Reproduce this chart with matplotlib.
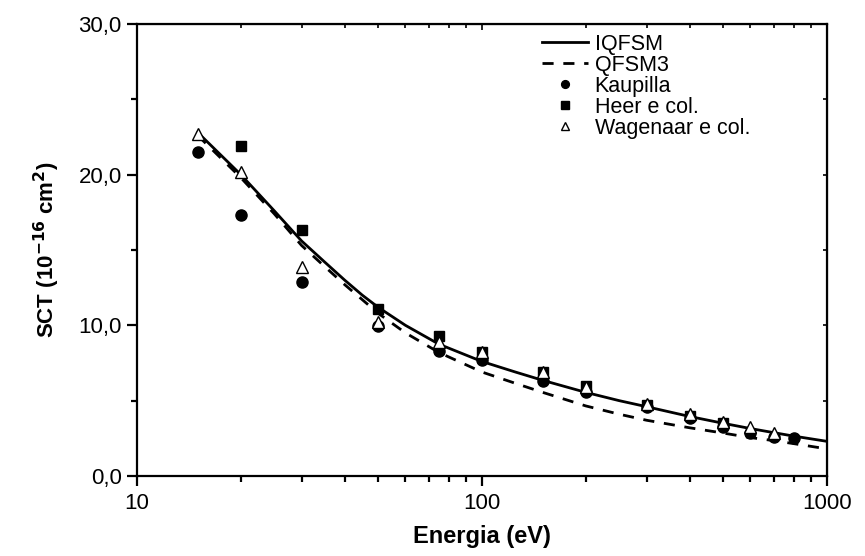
import matplotlib
matplotlib.use("Agg")
import matplotlib.pyplot as plt
from matplotlib.ticker import FuncFormatter, MultipleLocator, NullFormatter

plt.rcParams['font.family'] = ['Liberation Sans', 'DejaVu Sans']

# theory curves
e_iqfsm = [15, 17.5, 20, 25, 30, 35, 40, 45, 50, 60, 75, 100, 125, 150, 200, 250, 300,
           400, 500, 600, 700, 800, 1000]
sct_iqfsm = [22.8, 21.3, 20.0, 17.6, 15.6, 14.2, 13.0, 12.0, 11.2, 10.0, 8.75, 7.6, 6.9,
             6.35, 5.55, 5.0, 4.6, 3.95, 3.5, 3.15, 2.88, 2.65, 2.3]
e_qfsm3 = [15, 17.5, 20, 25, 30, 35, 40, 45, 50, 60, 75, 100, 125, 150, 200, 250, 300,
           400, 500, 600, 700, 800, 1000]
sct_qfsm3 = [22.6, 21.1, 19.8, 17.4, 15.3, 13.9, 12.7, 11.7, 10.8, 9.5, 8.2, 6.9, 6.15,
             5.55, 4.65, 4.1, 3.7, 3.2, 2.85, 2.55, 2.35, 2.15, 1.8]

# experimental points
e_kau = [15, 20, 30, 50, 75, 100, 150, 200, 300, 400, 500, 600, 700, 800]
sct_kau = [21.5, 17.3, 12.9, 9.95, 8.3, 7.7, 6.3, 5.6, 4.6, 3.85, 3.27, 2.85, 2.6, 2.5]
e_heer = [20, 30, 50, 75, 100, 150, 200, 300, 400, 500]
sct_heer = [21.9, 16.3, 11.1, 9.3, 8.2, 6.9, 6.0, 4.7, 4.0, 3.5]
e_wag = [15, 20, 30, 50, 75, 100, 150, 200, 300, 400, 500, 600, 700]
sct_wag = [22.7, 20.2, 13.9, 10.2, 8.9, 8.2, 6.9, 5.9, 4.8, 4.1, 3.6, 3.25, 2.85]

fig = plt.figure(figsize=(8.65, 5.56), dpi=100)
ax = fig.add_axes([0.1584, 0.1439, 0.956 - 0.1584, 0.9568 - 0.1439])

ax.plot(e_iqfsm, sct_iqfsm, color='black', lw=2, label='IQFSM')
ax.plot(e_qfsm3, sct_qfsm3, color='black', lw=2, ls=(0, (4, 3.5)), label='QFSM3')
ax.plot(e_kau, sct_kau, 'o', color='black', ms=8, ls='none', label='Kaupilla')
ax.plot(e_heer, sct_heer, 's', color='black', ms=7.5, ls='none', label='Heer e col.')
ax.plot(e_wag, sct_wag, '^', mfc='white', mec='black', mew=1, ms=9, ls='none', label='Wagenaar e col.')

ax.set_xscale('log')
ax.set_xlim(10, 1000)
ax.set_ylim(0, 30)
ax.xaxis.set_major_formatter(FuncFormatter(lambda v, p: '%d' % v))
ax.xaxis.set_minor_formatter(NullFormatter())
ax.yaxis.set_major_locator(MultipleLocator(10))
ax.yaxis.set_minor_locator(MultipleLocator(5))
ax.yaxis.set_major_formatter(FuncFormatter(lambda v, p: ('%.1f' % v).replace('.', ',')))

for s in ax.spines.values():
    s.set_linewidth(1.6)
ax.tick_params(which='major', length=7, width=1.6, labelsize=16, direction='out')
ax.tick_params(which='minor', length=4, width=1.6, direction='out')
ax.tick_params(axis='x', pad=5)
ax.tick_params(axis='y', pad=4)

# inward ticks on top and right
top = ax.secondary_xaxis('top')
top.tick_params(which='both', direction='in', labeltop=False, width=1.2)
top.tick_params(which='major', length=4)
top.tick_params(which='minor', length=3)
right = ax.secondary_yaxis('right')
right.yaxis.set_major_locator(MultipleLocator(10))
right.yaxis.set_minor_locator(MultipleLocator(5))
right.tick_params(which='both', direction='in', labelright=False, width=1.2, length=3)

ax.set_xlabel('Energia (eV)', fontsize=17, fontweight='bold', labelpad=8)
ax.set_ylabel(r'SCT (10$^{\mathbf{-16}}$ cm$^{\mathbf{2}}$)', fontsize=16, fontweight='bold', labelpad=12)

ax.legend(loc='upper left', bbox_to_anchor=(0.587, 0.978), frameon=False, fontsize=15.5,
          borderpad=0, borderaxespad=0, handlelength=2.15, labelspacing=0,
          handletextpad=0.3, markerscale=0.7)

fig.savefig('out.png', dpi=100)
